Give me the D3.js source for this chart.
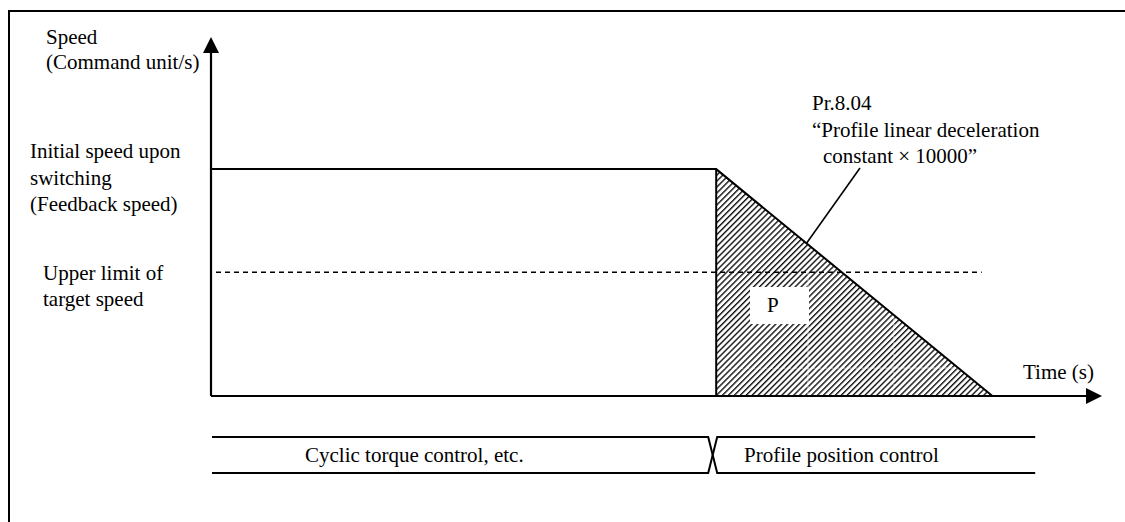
<!DOCTYPE html>
<html>
<head>
<meta charset="utf-8">
<script src="https://d3js.org/d3.v7.min.js"></script>
<style>
    body { margin: 0; background: #fff; }
    text { font-family: "Liberation Serif", "Times New Roman", serif; font-size: 21px; fill: #000; }
</style>
</head>
<body>
<div id="chart"></div>
<script>
//-----------------------------Data
// time and speed in arbitrary units (axis runs 0..10 on both)
var times = [0, 5.67, 8.77];          // start, switch, stop
var speeds = [6.32, 6.32, 0];         // speed at each time
var limitSpeed = [3.45];              // upper limit of target speed
var limitEnd = [8.65];                // dashed line ends here
var phases = ["Cyclic torque control, etc.", "Profile position control"];
var phaseEnd = [9.25];

var w = 1125;
var h = 522;

var x = d3.scaleLinear().domain([0, 10]).range([211, 1102]);
var y = d3.scaleLinear().domain([0, 10]).range([396, 37]);

var svg = d3.select("#chart")
    .append("svg")
    .attr("width", w)
    .attr("height", h);

// hatch for the area P
var defs = svg.append("defs");
defs.append("pattern")
    .attr("id", "hatch")
    .attr("patternUnits", "userSpaceOnUse")
    .attr("width", 4.2)
    .attr("height", 4.2)
    .attr("patternTransform", "rotate(45)")
    .append("line")
    .attr("x1", 0).attr("y1", 0)
    .attr("x2", 0).attr("y2", 4.2)
    .attr("stroke", "#111")
    .attr("stroke-width", 2.8);

// frame (top and left only)
svg.append("path")
    .attr("d", "M9," + h + " L9,11 L" + w + ",11")
    .attr("fill", "none")
    .attr("stroke", "#000")
    .attr("stroke-width", 2);

//-----------------------------Hatched area P
var area = d3.area()
    .x(function(d) { return x(d.t); })
    .y0(y(0))
    .y1(function(d) { return y(d.v); });

var decel = [
    { t: times[1], v: speeds[1] },
    { t: times[2], v: speeds[2] }
];
svg.append("path")
    .datum(decel)
    .attr("d", area)
    .attr("fill", "url(#hatch)");

// faint grid marks seen through the hatch
var faint = [
    [[x(times[1]), 368], [x(times[2]) - 6, 368]],
    [[808, 272], [808, y(0)]],
    [[894, 318], [894, y(0)]]
];
svg.selectAll(".faint")
    .data(faint)
    .enter()
    .append("path")
    .attr("class", "faint")
    .attr("d", d3.line())
    .attr("stroke", "#fff")
    .attr("stroke-width", 1)
    .attr("stroke-dasharray", "3,3")
    .attr("opacity", 0.7);

// white box behind P
svg.append("rect")
    .attr("x", 750).attr("y", 287)
    .attr("width", 59).attr("height", 37)
    .attr("fill", "#fff");
svg.append("text")
    .attr("x", 767).attr("y", 312)
    .text("P");

//-----------------------------Speed profile
var profile = times.map(function(t, i) { return { t: t, v: speeds[i] }; });
var line = d3.line()
    .x(function(d) { return x(d.t); })
    .y(function(d) { return y(d.v); });

svg.append("path")
    .datum(profile)
    .attr("d", line)
    .attr("fill", "none")
    .attr("stroke", "#000")
    .attr("stroke-width", 2);

// drop at switching point
svg.append("line")
    .attr("x1", x(times[1])).attr("y1", y(speeds[1]))
    .attr("x2", x(times[1])).attr("y2", y(0))
    .attr("stroke", "#000")
    .attr("stroke-width", 2);

// upper limit of target speed
svg.append("line")
    .attr("x1", x(0) + 5).attr("y1", y(limitSpeed[0]))
    .attr("x2", x(limitEnd[0])).attr("y2", y(limitSpeed[0]))
    .attr("stroke", "#000")
    .attr("stroke-width", 1.5)
    .attr("stroke-dasharray", "5,4");

//-----------------------------Axes
svg.append("line")
    .attr("x1", x(0)).attr("y1", y(0))
    .attr("x2", x(0)).attr("y2", y(10) + 14)
    .attr("stroke", "#000")
    .attr("stroke-width", 2.2);
svg.append("path")
    .attr("d", "M" + x(0) + "," + y(10) + " L" + (x(0) - 8) + "," + (y(10) + 16) + " L" + (x(0) + 8) + "," + (y(10) + 16) + "Z")
    .attr("fill", "#000");

svg.append("line")
    .attr("x1", x(0)).attr("y1", y(0))
    .attr("x2", x(10) - 14).attr("y2", y(0))
    .attr("stroke", "#000")
    .attr("stroke-width", 2.2);
svg.append("path")
    .attr("d", "M" + x(10) + "," + y(0) + " L" + (x(10) - 16) + "," + (y(0) - 8) + " L" + (x(10) - 16) + "," + (y(0) + 8) + "Z")
    .attr("fill", "#000");

//-----------------------------Labels
var labels = [
    { t: "Speed", x: 46, y: 44 },
    { t: "(Command unit/s)", x: 46, y: 69 },
    { t: "Initial speed upon", x: 30, y: 158 },
    { t: "switching", x: 30, y: 185 },
    { t: "(Feedback speed)", x: 30, y: 211 },
    { t: "Upper limit of", x: 43, y: 280 },
    { t: "target speed", x: 43, y: 306 },
    { t: "Pr.8.04", x: 812, y: 110 },
    { t: "\u201cProfile linear deceleration", x: 812, y: 137 },
    { t: "constant \u00d7 10000\u201d", x: 823, y: 163 },
    { t: "Time (s)", x: 1023, y: 379 }
];
svg.selectAll(".lbl")
    .data(labels)
    .enter()
    .append("text")
    .attr("class", "lbl")
    .attr("x", function(d) { return d.x; })
    .attr("y", function(d) { return d.y; })
    .text(function(d) { return d.t; });

// leader from Pr.8.04 to the slope
svg.append("line")
    .attr("x1", 860).attr("y1", 168)
    .attr("x2", 806).attr("y2", 244)
    .attr("stroke", "#000")
    .attr("stroke-width", 1.6);

//-----------------------------Control mode band
var bandTop = 437;
var bandBot = 473;
var sx = x(times[1]);
var bandLeft = x(0) + 1;
var bandRight = x(phaseEnd[0]);

var band = svg.append("g")
    .attr("fill", "none")
    .attr("stroke", "#000")
    .attr("stroke-width", 2);
band.append("path")
    .attr("d", "M" + bandLeft + "," + bandTop + " L" + (sx - 8) + "," + bandTop +
        " L" + (sx + 1) + "," + bandBot + " L" + bandRight + "," + bandBot);
band.append("path")
    .attr("d", "M" + bandLeft + "," + bandBot + " L" + (sx - 8) + "," + bandBot +
        " L" + (sx + 1) + "," + bandTop + " L" + bandRight + "," + bandTop);

svg.append("text")
    .attr("x", 305).attr("y", 462)
    .text(phases[0]);
svg.append("text")
    .attr("x", 744).attr("y", 462)
    .text(phases[1]);
</script>
</body>
</html>
